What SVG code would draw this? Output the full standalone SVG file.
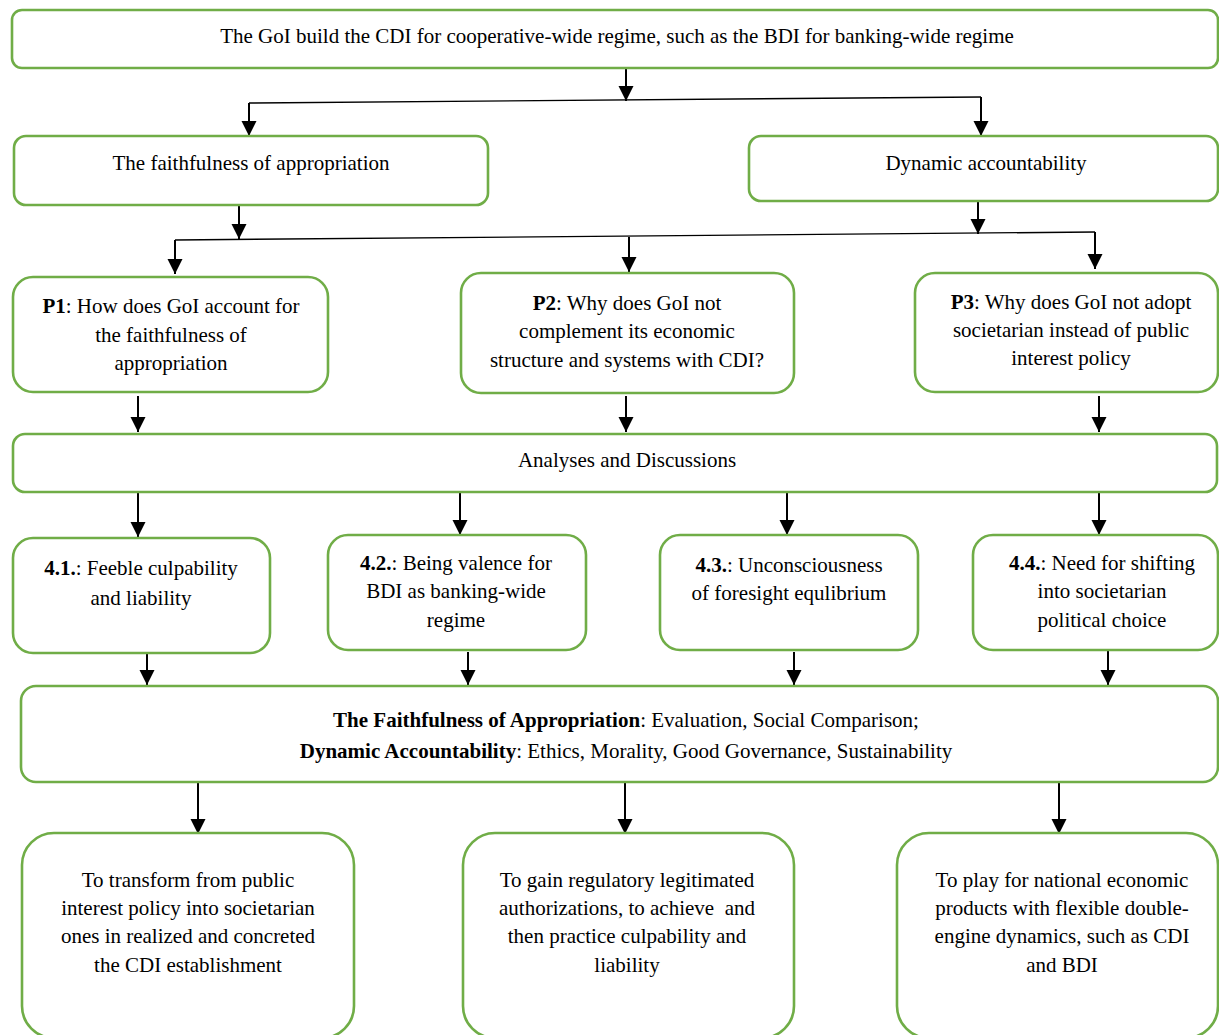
<svg xmlns="http://www.w3.org/2000/svg" width="1219" height="1035" viewBox="0 0 1219 1035">
<style>
.box{fill:#fff;stroke:#70AD47;stroke-width:2.6}
text{font-family:"Liberation Serif","Times New Roman",serif;font-size:21px;fill:#000;text-anchor:middle}
.b{font-weight:bold}
.c{stroke:#000;stroke-width:2;fill:none}
.h{stroke:#000;stroke-width:1.4;fill:none}
</style>
<defs>
<marker id="ah" markerUnits="userSpaceOnUse" markerWidth="16" markerHeight="16" refX="15" refY="7.5" orient="auto">
<path d="M0,0 L15,7.5 L0,15 Z" fill="#000"/>
</marker>
</defs>
<rect width="1219" height="1035" fill="#fff"/>
<g id="connectors">
<line class="c" x1="626" y1="68" x2="626" y2="101" marker-end="url(#ah)"/>
<line class="h" x1="249" y1="103" x2="981" y2="97"/>
<line class="c" x1="249" y1="103" x2="249" y2="136" marker-end="url(#ah)"/>
<line class="c" x1="981" y1="97" x2="981" y2="136" marker-end="url(#ah)"/>
<line class="c" x1="239" y1="205" x2="239" y2="239" marker-end="url(#ah)"/>
<line class="c" x1="978" y1="201" x2="978" y2="234" marker-end="url(#ah)"/>
<line class="h" x1="175" y1="240" x2="1095" y2="232"/>
<line class="c" x1="175" y1="240" x2="175" y2="274" marker-end="url(#ah)"/>
<line class="c" x1="629" y1="237" x2="629" y2="272" marker-end="url(#ah)"/>
<line class="c" x1="1095" y1="232" x2="1095" y2="269" marker-end="url(#ah)"/>
<line class="c" x1="138" y1="396" x2="138" y2="432" marker-end="url(#ah)"/>
<line class="c" x1="626" y1="396" x2="626" y2="432" marker-end="url(#ah)"/>
<line class="c" x1="1099" y1="396" x2="1099" y2="432" marker-end="url(#ah)"/>
<line class="c" x1="138" y1="492" x2="138" y2="537" marker-end="url(#ah)"/>
<line class="c" x1="460" y1="489" x2="460" y2="535" marker-end="url(#ah)"/>
<line class="c" x1="787" y1="492" x2="787" y2="535" marker-end="url(#ah)"/>
<line class="c" x1="1099" y1="492" x2="1099" y2="535" marker-end="url(#ah)"/>
<line class="c" x1="147" y1="649" x2="147" y2="685" marker-end="url(#ah)"/>
<line class="c" x1="468" y1="652" x2="468" y2="685" marker-end="url(#ah)"/>
<line class="c" x1="794" y1="652" x2="794" y2="685" marker-end="url(#ah)"/>
<line class="c" x1="1108" y1="650" x2="1108" y2="685" marker-end="url(#ah)"/>
<line class="c" x1="198" y1="780" x2="198" y2="834" marker-end="url(#ah)"/>
<line class="c" x1="625" y1="780" x2="625" y2="834" marker-end="url(#ah)"/>
<line class="c" x1="1059" y1="780" x2="1059" y2="834" marker-end="url(#ah)"/>
</g>
<g id="top">
<rect class="box" x="12" y="10" width="1206" height="58" rx="10"/>
<text x="617" y="43">The GoI build the CDI for cooperative-wide regime, such as the BDI for banking-wide regime</text>
</g>
<g id="faithfulness">
<rect class="box" x="14" y="136" width="474" height="69" rx="12"/>
<text x="251" y="170">The faithfulness of appropriation</text>
</g>
<g id="dynamic">
<rect class="box" x="749" y="136" width="469" height="65" rx="12"/>
<text x="986" y="170">Dynamic accountability</text>
</g>
<g id="p1">
<rect class="box" x="13" y="277" width="315" height="115" rx="20"/>
<text x="171" y="313"><tspan class="b">P1</tspan>: How does GoI account for</text>
<text x="171" y="342">the faithfulness of</text>
<text x="171" y="370">appropriation</text>
</g>
<g id="p2">
<rect class="box" x="461" y="273" width="333" height="120" rx="20"/>
<text x="627" y="310"><tspan class="b">P2</tspan>: Why does GoI not</text>
<text x="627" y="338">complement its economic</text>
<text x="627" y="367">structure and systems with CDI?</text>
</g>
<g id="p3">
<rect class="box" x="915" y="273" width="303" height="119" rx="20"/>
<text x="1071" y="309"><tspan class="b">P3</tspan>: Why does GoI not adopt</text>
<text x="1071" y="337">societarian instead of public</text>
<text x="1071" y="365">interest policy</text>
</g>
<g id="analyses">
<rect class="box" x="13" y="434" width="1204" height="58" rx="12"/>
<text x="627" y="467">Analyses and Discussions</text>
</g>
<g id="s41">
<rect class="box" x="13" y="538" width="257" height="115" rx="20"/>
<text x="141" y="575"><tspan class="b">4.1.</tspan>: Feeble culpability</text>
<text x="141" y="605">and liability</text>
</g>
<g id="s42">
<rect class="box" x="328" y="535" width="258" height="115" rx="20"/>
<text x="456" y="570"><tspan class="b">4.2.</tspan>: Being valence for</text>
<text x="456" y="598">BDI as banking-wide</text>
<text x="456" y="627">regime</text>
</g>
<g id="s43">
<rect class="box" x="660" y="535" width="258" height="115" rx="20"/>
<text x="789" y="572"><tspan class="b">4.3.</tspan>: Unconsciousness</text>
<text x="789" y="600">of foresight equlibrium</text>
</g>
<g id="s44">
<rect class="box" x="973" y="535" width="245" height="115" rx="20"/>
<text x="1102" y="570"><tspan class="b">4.4.</tspan>: Need for shifting</text>
<text x="1102" y="598">into societarian</text>
<text x="1102" y="627">political choice</text>
</g>
<g id="summary">
<rect class="box" x="21" y="686" width="1197" height="96" rx="15"/>
<text x="626" y="727"><tspan class="b">The Faithfulness of Appropriation</tspan>: Evaluation, Social Comparison;</text>
<text x="626" y="758"><tspan class="b">Dynamic Accountability</tspan>: Ethics, Morality, Good Governance, Sustainability</text>
</g>
<g id="out1">
<rect class="box" x="22" y="833" width="332" height="205" rx="32"/>
<text x="188" y="887">To transform from public</text>
<text x="188" y="915">interest policy into societarian</text>
<text x="188" y="943">ones in realized and concreted</text>
<text x="188" y="972">the CDI establishment</text>
</g>
<g id="out2">
<rect class="box" x="463" y="833" width="331" height="205" rx="32"/>
<text x="627" y="887">To gain regulatory legitimated</text>
<text x="627" y="915" xml:space="preserve">authorizations, to achieve  and</text>
<text x="627" y="943">then practice culpability and</text>
<text x="627" y="972">liability</text>
</g>
<g id="out3">
<rect class="box" x="897" y="833" width="321" height="205" rx="32"/>
<text x="1062" y="887">To play for national economic</text>
<text x="1062" y="915">products with flexible double-</text>
<text x="1062" y="943">engine dynamics, such as CDI</text>
<text x="1062" y="972">and BDI</text>
</g>
</svg>
